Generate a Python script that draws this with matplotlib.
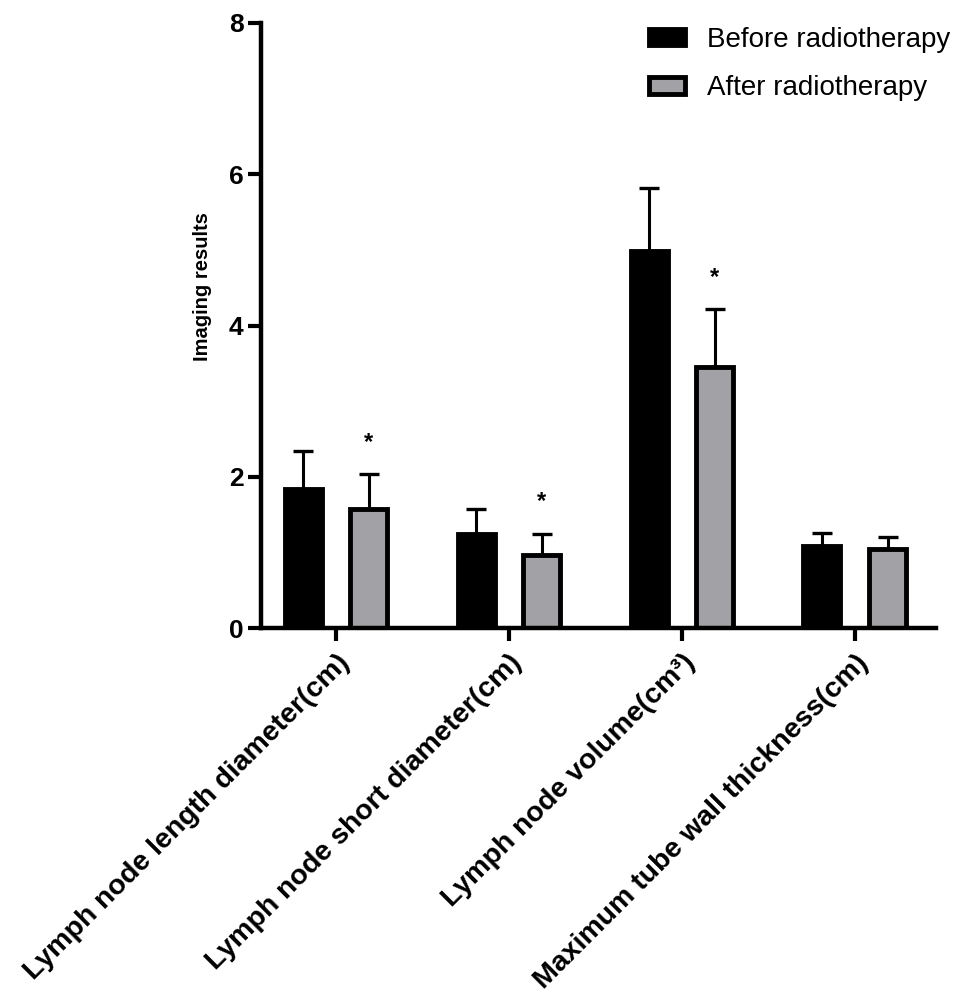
import numpy as np
import matplotlib.pyplot as plt

plt.rcParams['font.family'] = ['Liberation Sans', 'DejaVu Sans']

# values
categories = ['Lymph node length diameter(cm)',
              'Lymph node short diameter(cm)',
              'Lymph node volume(cm³)',
              'Maximum tube wall thickness(cm)']
before = [1.84, 1.24, 4.99, 1.08]
before_sd = [0.50, 0.33, 0.83, 0.18]
after = [1.58, 0.96, 3.45, 1.05]
after_sd = [0.46, 0.29, 0.77, 0.16]
significant = [True, True, True, False]
series_names = ['Before radiotherapy', 'After radiotherapy']

fig = plt.figure(figsize=(9.57, 9.97), dpi=100)
ax = fig.add_axes([0.2727, 0.370, 0.7053, 0.607])

x = np.arange(len(categories))
off = 0.19
w = 0.214

ax.errorbar(x - off, before, yerr=[np.zeros(4), before_sd], fmt='none',
            ecolor='black', elinewidth=2.2, capsize=7.5, capthick=2.4, zorder=1)
ax.errorbar(x + off, after, yerr=[np.zeros(4), after_sd], fmt='none',
            ecolor='black', elinewidth=2.2, capsize=7.5, capthick=2.4, zorder=1)
b1 = ax.bar(x - off, before, w, color='black', edgecolor='black', linewidth=3.5,
            label=series_names[0], zorder=2)
b2 = ax.bar(x + off, after, w, color='#a2a2a6', edgecolor='black', linewidth=3.5,
            label=series_names[1], zorder=2)

for i in range(len(categories)):
    if significant[i]:
        ax.text(x[i] + off, after[i] + after_sd[i] + 0.42, '*', ha='center',
                va='center', fontsize=17, fontweight='bold')

ax.set_xlim(-0.434, 3.469)
ax.set_ylim(0, 8)
ax.set_yticks([0, 2, 4, 6, 8])
ax.set_xticks(x)
ax.set_xticklabels(categories, rotation=45, ha='right', rotation_mode='anchor',
                   fontsize=20.5, fontweight='bold')
for lab in ax.get_yticklabels():
    lab.set_fontsize(19)
    lab.set_fontweight('bold')

for s in ['top', 'right']:
    ax.spines[s].set_visible(False)
for s in ['left', 'bottom']:
    ax.spines[s].set_linewidth(3.2)
ax.tick_params(axis='both', width=3, length=9.5, pad=3)
ax.tick_params(axis='x', pad=6)

fig.text(0.212, 0.713, 'Imaging results', rotation=90, ha='center', va='center',
         fontsize=14.5, fontweight='bold')

ax.legend(loc='upper left', bbox_to_anchor=(0.678, 0.973), bbox_transform=fig.transFigure,
          frameon=False, fontsize=20, handlelength=1.3, handleheight=0.54,
          handletextpad=0.8, labelspacing=0.8, borderpad=0, borderaxespad=0)

fig.savefig('out.png', dpi=100)
